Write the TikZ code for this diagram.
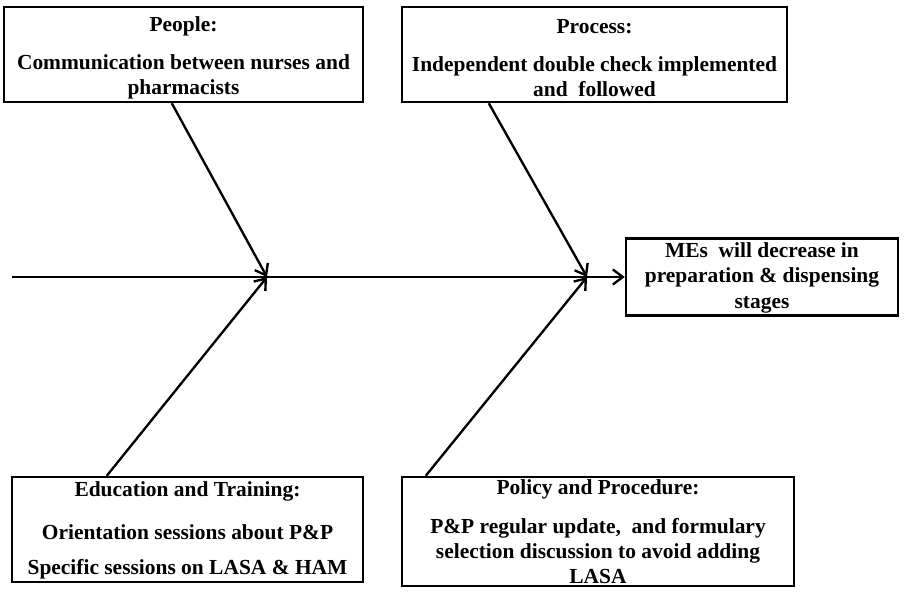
\documentclass[tikz,border=0pt]{standalone}
\usepackage{fontspec}
\setmainfont{Liberation Serif}
\usetikzlibrary{arrows.meta,positioning,calc}

\begin{document}
\begin{tikzpicture}[x=0.3mm, y=-0.3mm,
  every node/.style={font=\fontsize{18.3}{21.5}\selectfont\bfseries},
  causebox/.style={draw, line width=2.1pt, inner sep=0pt, align=center},
  bone/.style={line width=2pt, -{Straight Barb[length=3mm,width=4.5mm]}}]
\useasboundingbox (0,0) rectangle (906,592);
% cause boxes, top row
\node[causebox, minimum width=107.7mm, minimum height=28.5mm] (people) at (183.5,54.5)
  {\rule{0pt}{6.5mm}People:\\[3.8mm] Communication between nurses and\\ pharmacists};
\node[causebox, minimum width=115.5mm, minimum height=28.5mm] (process) at (594.5,54.5)
  {\rule{0pt}{6.5mm}Process:\\[3.8mm] Independent double check implemented\\ and~ followed};
% cause boxes, bottom row
\node[causebox, minimum width=105.3mm, minimum height=31.5mm] (training) at (187.5,529.5)
  {\rule{0pt}{5mm}Education and Training:\\[5.3mm] Orientation sessions about P\&P\\[3.2mm] Specific sessions on LASA \& HAM};
\node[causebox, minimum width=117.6mm, minimum height=32.7mm] (policy) at (598,531.5)
  {Policy and Procedure:\\[4.1mm] P\&P regular update,~ and formulary\\ selection discussion to avoid adding\\ LASA};
% effect
\node[causebox, minimum width=81.6mm, minimum height=23.1mm] (effect) at (762,277)
  {\rule{0pt}{5mm}MEs~ will decrease in\\ preparation \& dispensing\\ stages};
% spine and joints
\coordinate (tail) at (12,277);
\coordinate (jA) at (267,277);
\coordinate (jB) at (587,277);
\draw[bone] (tail) -- (effect.west);
% bones
\draw[bone] ([xshift=50.7mm]people.south west) -- (jA);
\draw[bone] ([xshift=28.8mm]training.north west) -- (jA);
\draw[bone] ([xshift=26.4mm]process.south west) -- (jB);
\draw[bone] ([xshift=7.5mm]policy.north west) -- (jB);
\end{tikzpicture}
\end{document}
